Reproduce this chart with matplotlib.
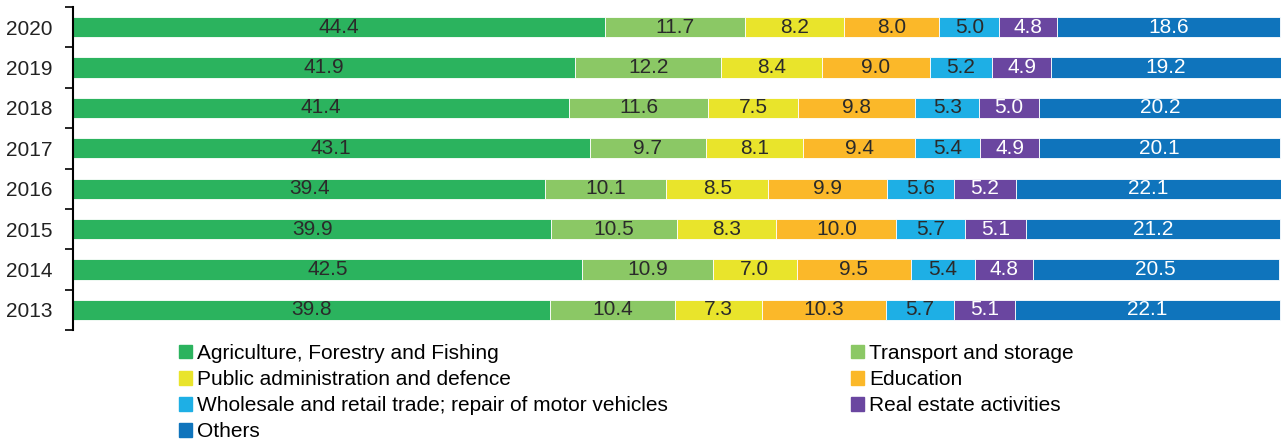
import matplotlib
matplotlib.use("Agg")
import matplotlib.pyplot as plt
import numpy as np
from matplotlib.patches import Patch

plt.rcParams['font.family'] = ['Liberation Sans', 'DejaVu Sans']

years = ['2020', '2019', '2018', '2017', '2016', '2015', '2014', '2013']
sectors = ['Agriculture, Forestry and Fishing', 'Transport and storage',
           'Public administration and defence', 'Education',
           'Wholesale and retail trade; repair of motor vehicles',
           'Real estate activities', 'Others']
agri = [44.4, 41.9, 41.4, 43.1, 39.4, 39.9, 42.5, 39.8]
transport = [11.7, 12.2, 11.6, 9.7, 10.1, 10.5, 10.9, 10.4]
public = [8.2, 8.4, 7.5, 8.1, 8.5, 8.3, 7.0, 7.3]
education = [8.0, 9.0, 9.8, 9.4, 9.9, 10.0, 9.5, 10.3]
wholesale = [5.0, 5.2, 5.3, 5.4, 5.6, 5.7, 5.4, 5.7]
realestate = [4.8, 4.9, 5.0, 4.9, 5.2, 5.1, 4.8, 5.1]
others = [18.6, 19.2, 20.2, 20.1, 22.1, 21.2, 20.5, 22.1]

series = [agri, transport, public, education, wholesale, realestate, others]
colors = ['#2bb35e', '#8bc865', '#e9e42b', '#fbb829', '#1eafe5', '#6a46a0', '#0f74bc']
text_colors = ['#2a2a2a', '#2a2a2a', '#2a2a2a', '#2a2a2a', '#2a2a2a', 'white', 'white']

FS = 15

fig = plt.figure(figsize=(12.88, 4.41), dpi=100)
ax = fig.add_axes([73/1288, 1 - 330/441, (1281-73)/1288, 323/441])

y = np.arange(len(years))[::-1]
left = np.zeros(len(years))
for vals, c, tc, name in zip(series, colors, text_colors, sectors):
    vals = np.array(vals)
    ax.barh(y, vals, left=left, height=0.5, color=c, edgecolor='white', linewidth=0.6, label=name)
    for yi, l, v in zip(y, left, vals):
        ax.text(l + v/2, yi, f'{v:.1f}', ha='center', va='center', fontsize=FS, color=tc)
    left += vals

ax.set_xlim(0, left.max())
ax.set_ylim(-0.5, len(years) - 0.5)
ax.set_yticks(y)
ax.set_yticklabels(years, fontsize=FS, color='#222222')
ax.set_yticks(np.arange(-0.5, len(years), 1.0), minor=True)
ax.tick_params(axis='y', which='major', length=0, pad=14.5)
ax.tick_params(axis='y', which='minor', length=6, width=1.2, direction='out')
ax.set_xticks([])
for s in ['top', 'right', 'bottom']:
    ax.spines[s].set_visible(False)
ax.spines['left'].set_linewidth(1.5)

h = [Patch(color=c) for c in colors]
left_idx = [0, 2, 4, 6]
right_idx = [1, 3, 5]
kw = dict(frameon=False, fontsize=FS, handlelength=0.62, handleheight=0.62,
          handletextpad=0.25, labelspacing=0.34, borderaxespad=0, borderpad=0)
leg1 = fig.legend([h[i] for i in left_idx], [sectors[i] for i in left_idx],
                  loc='upper left', bbox_to_anchor=(179/1288, 1 - 344/441), **kw)
leg2 = fig.legend([h[i] for i in right_idx], [sectors[i] for i in right_idx],
                  loc='upper left', bbox_to_anchor=(851/1288, 1 - 344/441), **kw)

fig.savefig('out.png', dpi=100)
